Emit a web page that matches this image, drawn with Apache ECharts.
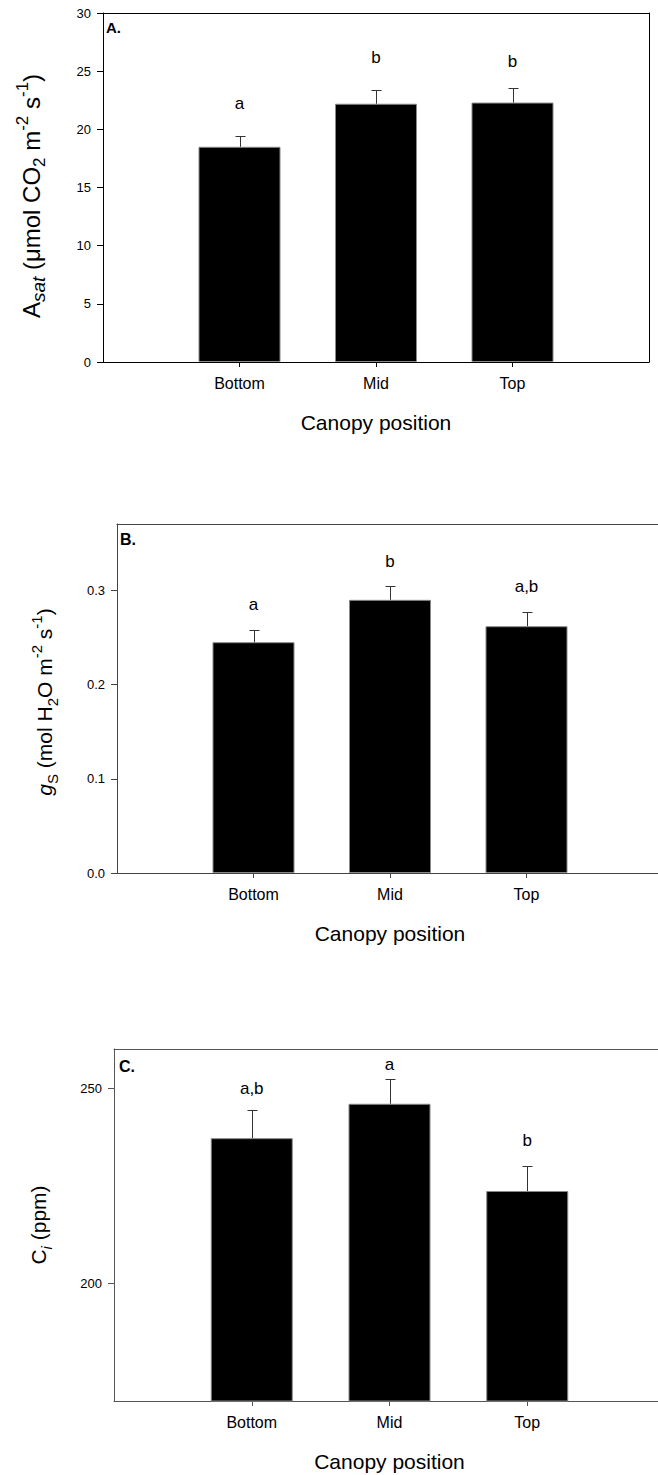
<!DOCTYPE html>
<html>
<head>
<meta charset="utf-8">
<script src="https://cdn.jsdelivr.net/npm/echarts@6/dist/echarts.min.js"></script>
<style>
html,body{margin:0;padding:0;background:#fff;overflow:hidden;}
#chart{width:658px;height:1475px;overflow:hidden;}
</style>
</head>
<body>
<div id="chart"></div>
<script>
// ---- data ----
const categories = ['Bottom', 'Mid', 'Top'];
const xTitle = 'Canopy position';

const asatValues = [18.5, 22.2, 22.3];
const asatErrors = [0.95, 1.2, 1.25];
const asatLetters = ['a', 'b', 'b'];
const asatLetterY = [22.2, 26.2, 25.8];
const asatTicks = [0, 5, 10, 15, 20, 25, 30];

const gsValues = [0.245, 0.290, 0.262];
const gsErrors = [0.013, 0.015, 0.015];
const gsLetters = ['a', 'b', 'a,b'];
const gsLetterY = [0.285, 0.331, 0.304];
const gsTicks = [0.0, 0.1, 0.2, 0.3];

const ciValues = [237.2, 246.0, 223.7];
const ciErrors = [7.1, 6.4, 6.5];
const ciLetters = ['a,b', 'a', 'b'];
const ciLetterY = [250, 256, 236.5];
const ciTicks = [200, 250];

// ---- layout/style ----
const FONT = '"Liberation Sans", Arial, Helvetica, sans-serif';
const panels = [
  {grid: {left: 103, top: 13, width: 546, height: 349}, min: 0, max: 30, ticks: asatTicks, fmt: v => String(v),
   values: asatValues, errors: asatErrors, letters: asatLetters, letterY: asatLetterY, rightLine: true,
   line: '#000', tag: 'A.', tagX: 106, tagY: 28, tagSize: 15},
  {grid: {left: 117, top: 524, width: 546, height: 349}, min: 0, max: 0.3705, ticks: gsTicks, fmt: v => v.toFixed(1),
   values: gsValues, errors: gsErrors, letters: gsLetters, letterY: gsLetterY, rightLine: false,
   line: '#444', tag: 'B.', tagX: 120, tagY: 540, tagSize: 16},
  {grid: {left: 114, top: 1049, width: 551, height: 352}, min: 170, max: 260, ticks: ciTicks, fmt: v => String(v),
   values: ciValues, errors: ciErrors, letters: ciLetters, letterY: ciLetterY, rightLine: false,
   line: '#555', tag: 'C.', tagX: 119, tagY: 1067, tagSize: 16}
];

const chart = echarts.init(document.getElementById('chart'), null, {renderer: 'svg', width: 658, height: 1475});

const grids = [], xAxes = [], yAxes = [], series = [], graphics = [];
panels.forEach((p, i) => {
  grids.push(Object.assign({show: false, containLabel: false, outerBoundsMode: 'none'}, p.grid));
  const xMain = xAxes.length;
  xAxes.push({
    type: 'value', gridIndex: i, min: 0, max: 4, position: 'bottom',
    axisLine: {show: true, onZero: false, lineStyle: {color: p.line, width: 1}},
    axisTick: {show: true, length: 5, customValues: [1, 2, 3], lineStyle: {color: p.line}},
    axisLabel: {show: true, customValues: [1, 2, 3], formatter: v => categories[Math.round(v) - 1] || '',
                fontSize: 16, color: '#000', fontFamily: FONT, margin: 13},
    splitLine: {show: false},
    name: xTitle, nameLocation: 'middle', nameGap: 50,
    nameTextStyle: {fontSize: 21, color: '#000', fontFamily: FONT}
  });
  // top frame line
  xAxes.push({
    type: 'value', gridIndex: i, min: 0, max: 4, position: 'top',
    axisLine: {show: true, onZero: false, lineStyle: {color: p.line, width: 1}},
    axisTick: {show: false}, axisLabel: {show: false}, splitLine: {show: false}
  });
  const yMain = yAxes.length;
  yAxes.push({
    type: 'value', gridIndex: i, min: p.min, max: p.max, position: 'left',
    axisLine: {show: true, onZero: false, lineStyle: {color: p.line, width: 1}},
    axisTick: {show: true, length: 6, customValues: p.ticks, lineStyle: {color: p.line}},
    axisLabel: {show: true, customValues: p.ticks, formatter: p.fmt, fontSize: 13, color: '#000', fontFamily: FONT, margin: 12},
    splitLine: {show: false}
  });
  if (p.rightLine) {
    yAxes.push({
      type: 'value', gridIndex: i, min: p.min, max: p.max, position: 'right',
      axisLine: {show: true, onZero: false, lineStyle: {color: p.line, width: 1}},
      axisTick: {show: false}, axisLabel: {show: false}, splitLine: {show: false}
    });
  }
  series.push({
    type: 'bar', xAxisIndex: xMain, yAxisIndex: yMain, barWidth: 82,
    data: categories.map((c, j) => [j + 1, p.values[j]]),
    itemStyle: {color: '#000', borderColor: '#888', borderWidth: 1},
    silent: true, z: 2
  });
  series.push({
    type: 'custom', xAxisIndex: xMain, yAxisIndex: yMain, clip: false, z: 3, silent: true,
    data: categories.map((c, j) => [j + 1, p.values[j], p.errors[j]]),
    renderItem: (params, api) => {
      const x = api.value(0), v = api.value(1), e = api.value(2);
      const p0 = api.coord([x, v]);
      const p1 = api.coord([x, v + e]);
      const cx = Math.round(p0[0]) + 0.5;
      const ty = Math.round(p1[1]) + 0.5;
      const cap = 5;
      return {type: 'group', children: [
        {type: 'line', shape: {x1: cx, y1: p0[1], x2: cx, y2: ty}, style: {stroke: '#333', lineWidth: 1}},
        {type: 'line', shape: {x1: cx - cap, y1: ty, x2: cx + cap, y2: ty}, style: {stroke: '#333', lineWidth: 1}}
      ]};
    }
  });
  series.push({
    type: 'custom', xAxisIndex: xMain, yAxisIndex: yMain, clip: false, z: 4, silent: true,
    data: categories.map((c, j) => [j + 1, p.letterY[j]]),
    renderItem: (params, api) => {
      const pt = api.coord([api.value(0), api.value(1)]);
      return {type: 'text', x: pt[0], y: pt[1], style: {
        text: p.letters[params.dataIndex], fontSize: 17, fontFamily: FONT, fill: '#000',
        align: 'center', verticalAlign: 'middle'}};
    }
  });
  graphics.push({type: 'text', left: p.tagX, top: p.tagY - p.tagSize / 2 - 1,
    style: {text: p.tag, fontSize: p.tagSize, fontWeight: 'bold', fontFamily: FONT, fill: '#000'}});
});

function richSet(base) {
  const s = Math.round(base * 0.7);
  return {
    b: {fontSize: base, lineHeight: base + 10, fontFamily: FONT, fill: '#000'},
    bi: {fontSize: base, lineHeight: base + 10, fontFamily: FONT, fill: '#000', fontStyle: 'italic'},
    si: {fontSize: Math.round(base * 0.78), lineHeight: base * 0.78 + 2, fontFamily: FONT, fill: '#000', fontStyle: 'italic', verticalAlign: 'bottom'},
    sub: {fontSize: s, lineHeight: s, fontFamily: FONT, fill: '#000', verticalAlign: 'bottom'},
    subi: {fontSize: s, lineHeight: s, fontFamily: FONT, fill: '#000', fontStyle: 'italic', verticalAlign: 'bottom'},
    sup: {fontSize: s, lineHeight: s, fontFamily: FONT, fill: '#000', verticalAlign: 'top'}
  };
}
const yTitles = [
  {x: 31, y: 196, size: 24, text: '{b|A}{si|sat}{b| (μmol CO}{sub|2}{b| m}{sup|-2}{b| s}{sup|-1}{b|)}'},
  {x: 44, y: 702, size: 21, text: '{bi|g}{sub|S}{b| (mol H}{sub|2}{b|O m}{sup|-2}{b| s}{sup|-1}{b|)}'},
  {x: 38, y: 1225, size: 21, text: '{b|C}{subi|i}{b| (ppm)}'}
];
yTitles.forEach(t => {
  graphics.push({type: 'text', x: t.x, y: t.y, rotation: Math.PI / 2,
    style: {text: t.text, rich: richSet(t.size), align: 'center', verticalAlign: 'middle'}});
});

chart.setOption({
  animation: false,
  backgroundColor: '#fff',
  textStyle: {fontFamily: FONT},
  grid: grids, xAxis: xAxes, yAxis: yAxes, series: series, graphic: graphics
});
</script>
</body>
</html>
